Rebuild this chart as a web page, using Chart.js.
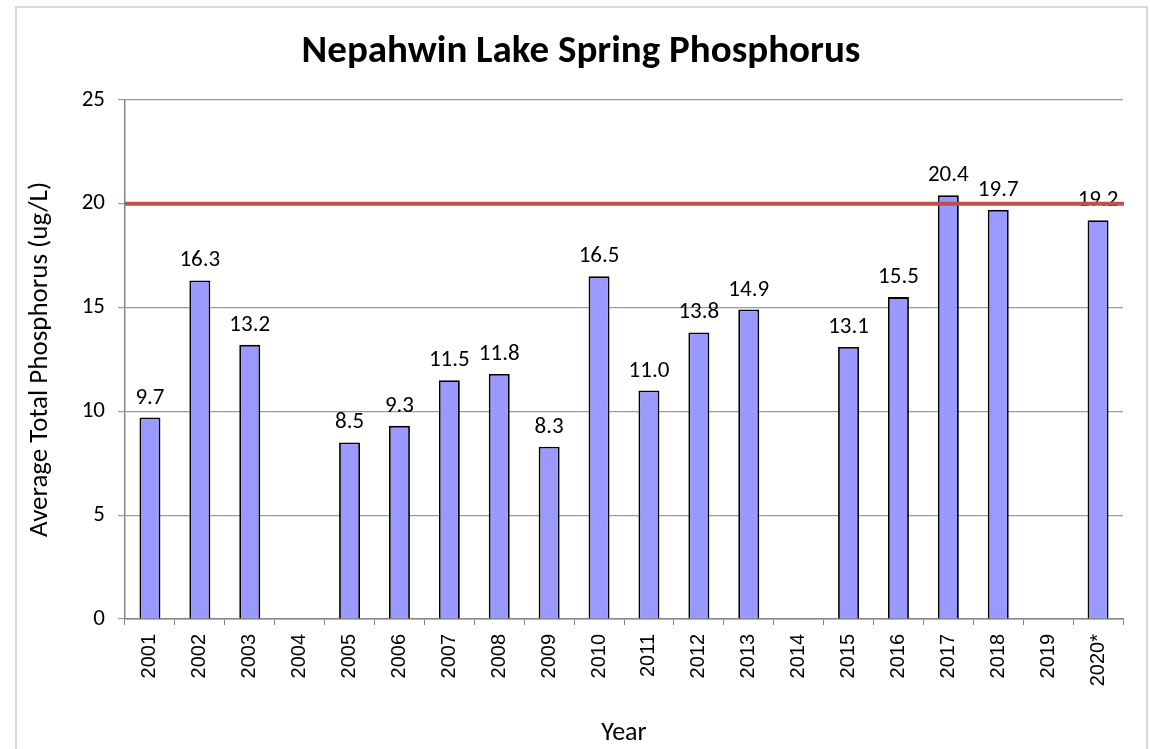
<!DOCTYPE html>
<html>
<head>
<meta charset="utf-8">
<title>Nepahwin Lake Spring Phosphorus</title>
<script src="https://cdn.jsdelivr.net/npm/chart.js@4.4.1/dist/chart.umd.min.js"></script>
<style>
  html, body { margin: 0; padding: 0; background: #fff; }
  #wrap { position: relative; width: 1150px; height: 749px; overflow: hidden; }
  #frame { position: absolute; left: 15px; top: 6px; width: 1129px; height: 800px; border: 2px solid #d9d9d9; }
  #chart { position: absolute; left: 0; top: 0; }
</style>
</head>
<body>
<div id="wrap">
  <div id="frame"></div>
  <canvas id="chart" width="1150" height="749"></canvas>
</div>
<script>
// ---------- Data ----------
const years = ["2001", "2002", "2003", "2004", "2005", "2006", "2007", "2008", "2009", "2010",
               "2011", "2012", "2013", "2014", "2015", "2016", "2017", "2018", "2019", "2020*"];
const phosphorus = [9.7, 16.3, 13.2, null, 8.5, 9.3, 11.5, 11.8, 8.3, 16.5,
                    11.0, 13.8, 14.9, null, 13.1, 15.5, 20.4, 19.7, null, 19.2];
const threshold = 20;
const yMin = 0, yMax = 25, yStep = 5;

const CAL = "Carlito, Lato, 'Open Sans', sans-serif";

// ---------- Plugins ----------
// value labels above each bar
const barLabels = {
  id: "barLabels",
  afterDatasetsDraw(chart) {
    const ctx = chart.ctx;
    const meta = chart.getDatasetMeta(0);
    ctx.save();
    ctx.font = "23px " + CAL;
    ctx.fillStyle = "#000";
    ctx.textAlign = "center";
    ctx.textBaseline = "alphabetic";
    meta.data.forEach((bar, i) => {
      const v = phosphorus[i];
      if (v == null) return;
      ctx.fillText(v.toFixed(1), bar.x, bar.y - 14);
    });
    ctx.restore();
  }
};

// red threshold line across the plot
const thresholdLine = {
  id: "thresholdLine",
  afterDatasetsDraw(chart) {
    const { ctx, chartArea, scales } = chart;
    const y = scales.y.getPixelForValue(threshold);
    ctx.save();
    ctx.strokeStyle = "#C0504D";
    ctx.lineWidth = 4;
    ctx.beginPath();
    ctx.moveTo(chartArea.left, y);
    ctx.lineTo(chartArea.right + 1, y);
    ctx.stroke();
    ctx.restore();
  }
};

// ---------- Chart ----------
new Chart(document.getElementById("chart").getContext("2d"), {
  type: "bar",
  data: {
    labels: years,
    datasets: [{
      data: phosphorus,
      backgroundColor: "#9999FF",
      borderColor: "#000",
      borderWidth: 1.8,
      barPercentage: 0.42,
      categoryPercentage: 1
    }]
  },
  options: {
    responsive: false,
    animation: false,
    layout: { padding: { left: 16, right: 4, top: 0, bottom: 0 } },
    plugins: {
      legend: { display: false },
      tooltip: { enabled: false },
      title: {
        display: true,
        text: "Nepahwin Lake Spring Phosphorus",
        color: "#000",
        font: { family: CAL, size: 39, weight: "bold", lineHeight: 1.2 },
        padding: { top: 29, bottom: 24 }
      }
    },
    scales: {
      x: {
        grid: { display: true, drawOnChartArea: false, drawTicks: true, tickLength: 6, offset: true, color: "#868686", lineWidth: 1 },
        border: { display: true, color: "#868686", width: 1.5 },
        ticks: {
          color: "#000",
          font: { family: "'Liberation Sans', Arial, sans-serif", size: 20 },
          maxRotation: 90, minRotation: 90, autoSkip: false, padding: 9
        },
        title: {
          display: true, text: "Year", color: "#000",
          font: { family: CAL, size: 26, lineHeight: 1.2 },
          padding: { top: 0, bottom: 0 }
        },
        afterFit(scale) { scale.height = 130; }
      },
      y: {
        min: yMin, max: yMax,
        grid: { color: "#9a9a9a", lineWidth: 1.2, tickLength: 7 },
        border: { display: true, color: "#868686", width: 1.5 },
        ticks: {
          stepSize: yStep, color: "#000", padding: 13,
          font: { family: CAL, size: 23 }
        },
        title: {
          display: true, text: "Average Total Phosphorus (ug/L)", color: "#000",
          font: { family: CAL, size: 27, lineHeight: 1.2 },
          padding: { top: 8, bottom: 0 }
        },
        afterFit(scale) { scale.width = 109; }
      },
      yR: {
        position: "right",
        display: true,
        grid: { display: false },
        border: { display: false },
        ticks: { display: false },
        afterFit(scale) { scale.width = 23; }
      }
    }
  },
  plugins: [barLabels, thresholdLine]
});
</script>
</body>
</html>
